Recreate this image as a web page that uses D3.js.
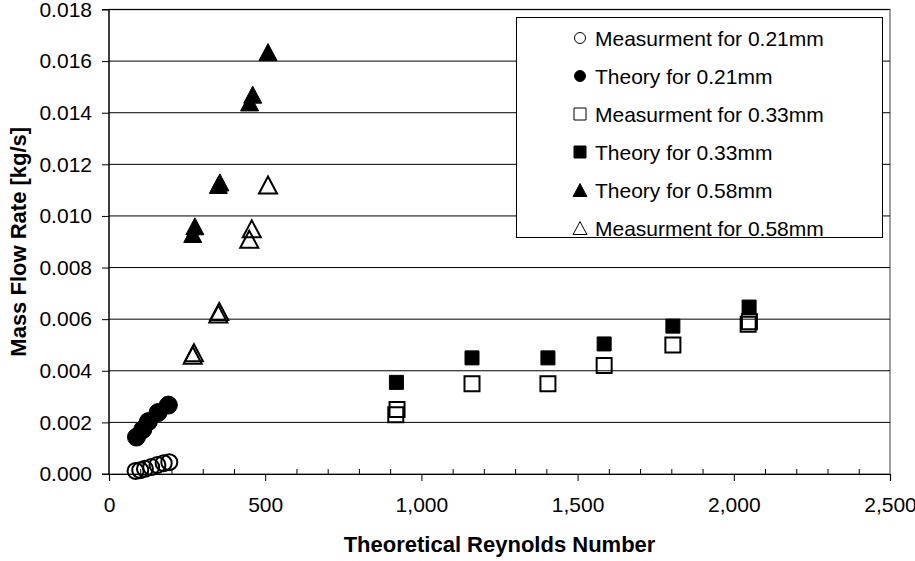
<!DOCTYPE html>
<html>
<head>
<meta charset="utf-8">
<script src="https://cdn.jsdelivr.net/npm/d3@7/dist/d3.min.js"></script>
<style>
  html, body { margin: 0; padding: 0; background: #fff; }
  svg { display: block; }
  text { font-family: "Liberation Sans", Arial, sans-serif; fill: #000; }
</style>
</head>
<body>
<svg id="chart" width="915" height="561"></svg>
<script>
// Mass flow rate vs. theoretical Reynolds number for three channel diameters
const re021Meas   = [85, 100, 115, 135, 155, 175, 193];
const flow021Meas = [0.00012, 0.00015, 0.00020, 0.00027, 0.00035, 0.00042, 0.00046];

const re021Theory   = [88, 108, 126, 157, 190];
const flow021Theory = [0.00143, 0.00172, 0.00203, 0.00238, 0.00267];

const re033Meas   = [918, 922, 1162, 1405, 1585, 1805, 2046, 2050];
const flow033Meas = [0.0023, 0.0025, 0.0035, 0.0035, 0.0042, 0.0050, 0.0058, 0.0059];

const re033Theory   = [920, 1162, 1405, 1585, 1805, 2049];
const flow033Theory = [0.00355, 0.0045, 0.0045, 0.00504, 0.00573, 0.00647];

const re058Theory   = [268, 275, 350, 355, 450, 460, 509];
const flow058Theory = [0.0093, 0.0096, 0.0112, 0.0113, 0.0144, 0.0147, 0.01635];

const re058Meas   = [268, 272, 350, 353, 449, 457, 509];
const flow058Meas = [0.0046, 0.0047, 0.0062, 0.0063, 0.0091, 0.0095, 0.0112];

const xTicks = [0, 500, 1000, 1500, 2000, 2500];
const yTicks = [0, 0.002, 0.004, 0.006, 0.008, 0.010, 0.012, 0.014, 0.016, 0.018];

const legendLabels = [
  "Measurment for 0.21mm",
  "Theory for 0.21mm",
  "Measurment for 0.33mm",
  "Theory for 0.33mm",
  "Theory for 0.58mm",
  "Measurment for 0.58mm"
];

const svg = d3.select("#chart");
const plot = { left: 109, right: 890, top: 9.5, bottom: 474 };

const x = d3.scaleLinear().domain([0, 2500]).range([plot.left, plot.right]);
const y = d3.scaleLinear().domain([0, 0.018]).range([plot.bottom, plot.top]);

// marker shapes, centred on the origin
const shapes = {
  circle: r => `M${-r},0A${r},${r} 0 1,0 ${r},0A${r},${r} 0 1,0 ${-r},0Z`,
  square: s => `M${-s/2},${-s/2}H${s/2}V${s/2}H${-s/2}Z`,
  triangle: s => `M0,${-s*0.5}L${s*0.53},${s*0.5}L${-s*0.53},${s*0.5}Z`
};

const series = [
  { re: re021Meas,   flow: flow021Meas,   shape: "circle",   size: 8,  filled: false },
  { re: re021Theory, flow: flow021Theory, shape: "circle",   size: 9,  filled: true  },
  { re: re033Meas,   flow: flow033Meas,   shape: "square",   size: 15, filled: false },
  { re: re033Theory, flow: flow033Theory, shape: "square",   size: 14, filled: true  },
  { re: re058Theory, flow: flow058Theory, shape: "triangle", size: 17, filled: true  },
  { re: re058Meas,   flow: flow058Meas,   shape: "triangle", size: 17, filled: false }
];

// plot area frame
svg.append("rect")
  .attr("x", plot.left).attr("y", plot.top)
  .attr("width", plot.right - plot.left).attr("height", plot.bottom - plot.top)
  .attr("fill", "none").attr("stroke", "#808080").attr("stroke-width", 1.5);

// horizontal gridlines
svg.append("g")
  .selectAll("line")
  .data(yTicks.filter(d => d > 0))
  .join("line")
  .attr("x1", plot.left).attr("x2", plot.right)
  .attr("y1", d => y(d)).attr("y2", d => y(d))
  .attr("stroke", "#000").attr("stroke-width", 1);

// y axis
const yAxis = svg.append("g")
  .attr("transform", `translate(${plot.left},0)`)
  .call(d3.axisLeft(y).tickValues(yTicks).tickFormat(d3.format(".3f")).tickSize(7).tickPadding(10));

// x axis: major ticks below, minor ticks every 100 above
const xAxis = svg.append("g")
  .attr("transform", `translate(0,${plot.bottom})`)
  .call(d3.axisBottom(x).tickValues(xTicks).tickFormat(d3.format(",")).tickSize(7).tickPadding(16));

svg.append("g")
  .attr("transform", `translate(0,${plot.bottom})`)
  .call(d3.axisTop(x).tickValues(d3.range(100, 2500, 100).filter(d => d % 500 !== 0)).tickFormat("").tickSize(5))
  .call(g => g.select(".domain").remove());

svg.selectAll(".tick line").attr("stroke", "#000");
svg.selectAll(".domain").attr("stroke", "#000").attr("stroke-width", 1.2);
[yAxis, xAxis].forEach(g => g.selectAll(".tick text")
  .style("font-family", '"Liberation Sans", Arial, sans-serif')
  .style("font-size", "21px"));
yAxis.select(".domain").attr("d", `M-7,${plot.top}H0V${plot.bottom}H-7`);

// axis titles
svg.append("text")
  .attr("transform", `translate(26,${(plot.top + plot.bottom) / 2}) rotate(-90)`)
  .attr("text-anchor", "middle")
  .style("font-size", "22px").style("font-weight", "bold")
  .text("Mass Flow Rate [kg/s]");

svg.append("text")
  .attr("x", (plot.left + plot.right) / 2).attr("y", 552)
  .attr("text-anchor", "middle")
  .style("font-size", "22px").style("font-weight", "bold")
  .text("Theoretical Reynolds Number");

// data markers
series.forEach(s => {
  svg.append("g")
    .selectAll("path")
    .data(s.re.map((r, i) => [r, s.flow[i]]))
    .join("path")
    .attr("transform", d => `translate(${x(d[0])},${y(d[1])})`)
    .attr("d", shapes[s.shape](s.size))
    .attr("fill", s.filled ? "#000" : "#fff")
    .attr("fill-opacity", s.filled ? 1 : 0)
    .attr("stroke", "#000")
    .attr("stroke-width", s.filled ? 1 : 2);
});

// legend
const legend = svg.append("g");
legend.append("rect")
  .attr("x", 516.5).attr("y", 17.5).attr("width", 366).attr("height", 220)
  .attr("fill", "#fff").attr("stroke", "#000").attr("stroke-width", 1);

const legendSeries = series.map((s, i) => ({ ...s, label: legendLabels[i] }));
const row = legend.selectAll("g.row")
  .data(legendSeries)
  .join("g")
  .attr("class", "row")
  .attr("transform", (d, i) => `translate(580,${38 + i * 38})`);

row.append("path")
  .attr("d", d => d.shape === "circle" ? shapes.circle(5.5)
               : d.shape === "square" ? shapes.square(12)
               : shapes.triangle(13))
  .attr("fill", d => d.filled ? "#000" : "#fff")
  .attr("stroke", "#000")
  .attr("stroke-width", 1);

row.append("text")
  .attr("x", 15).attr("dy", "0.36em")
  .style("font-size", "21px")
  .text(d => d.label);
</script>
</body>
</html>
